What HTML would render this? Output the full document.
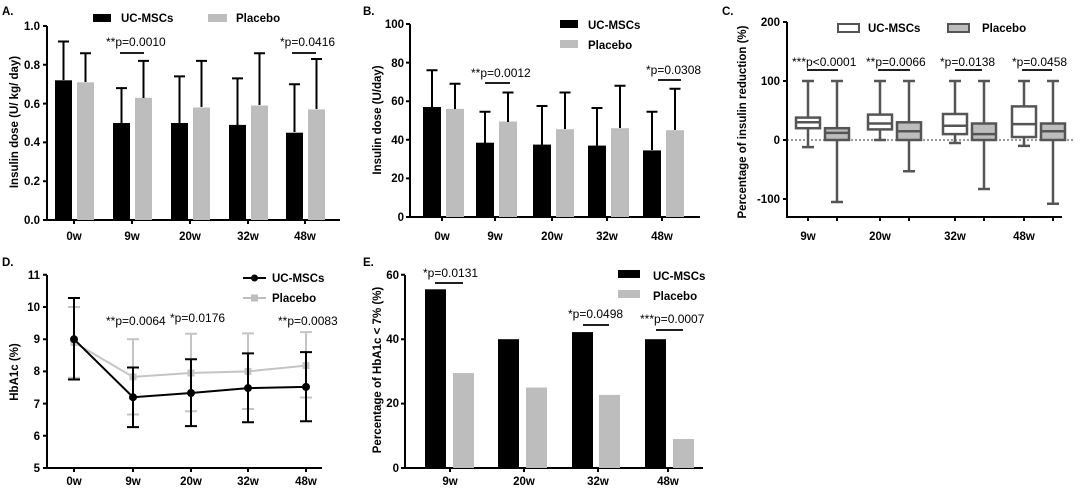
<!DOCTYPE html>
<html><head><meta charset="utf-8"><style>
html,body{margin:0;padding:0;background:#fff;}
svg{display:block;font-family:"Liberation Sans",Arial,sans-serif;}
.t{font-size:11.5px;font-weight:bold;}
.p{font-size:12px;}
.ax{stroke:#000;stroke-width:2;fill:none;}
.e{stroke:#000;stroke-width:2;fill:none;}
.g{fill:#bdbdbd;}
.bx{stroke:#555;stroke-width:2.5;fill:#fff;}
.bp{stroke:#555;stroke-width:2.5;fill:#bdbdbd;}
.wl{stroke:#555;stroke-width:2.5;fill:none;}
</style></head><body>
<svg width="1080" height="491" viewBox="0 0 1080 491">
<!-- ===== Panel A ===== -->
<text x="2" y="15" class="t" font-size="13">A.</text>
<rect x="93" y="14" width="18" height="8"/><text x="121" y="22" class="t">UC-MSCs</text>
<rect x="208" y="14" width="19" height="8" class="g"/><text x="236" y="22" class="t">Placebo</text>
<g class="t" text-anchor="end">
<text x="40" y="224">0.0</text><text x="40" y="185">0.2</text><text x="40" y="146">0.4</text><text x="40" y="108">0.6</text><text x="40" y="69">0.8</text><text x="40" y="30">1.0</text>
</g>
<path class="ax" d="M47,26V220H340M43,220H47M43,181.2H47M43,142.4H47M43,103.6H47M43,64.8H47M43,26H47M74,220v4M132,220v4M190,220v4M248,220v4M305,220v4"/>
<g class="t" text-anchor="middle"><text x="74" y="240">0w</text><text x="132" y="240">9w</text><text x="190" y="240">20w</text><text x="248" y="240">32w</text><text x="305" y="240">48w</text></g>
<text transform="translate(18,122) rotate(-90)" class="t" text-anchor="middle">Insulin dose (U/ kg/ day)</text>
<rect x="55" y="80.3" width="17" height="139.7"/><rect x="77" y="82.3" width="17" height="137.7" class="g"/>
<rect x="113" y="123" width="17" height="97"/><rect x="135" y="97.8" width="17" height="122.2" class="g"/>
<rect x="171" y="123" width="17" height="97"/><rect x="193" y="107.5" width="17" height="112.5" class="g"/>
<rect x="229" y="124.9" width="17" height="95.1"/><rect x="251" y="105.5" width="17" height="114.5" class="g"/>
<rect x="286" y="132.7" width="17" height="87.3"/><rect x="308" y="109.4" width="17" height="110.6" class="g"/>
<path class="e" d="M63.5,80V41.5M58,41.5h11M85.5,82V53.2M80,53.2h11M121.5,123V88.1M116,88.1h11M143.5,98V60.9M138,60.9h11M179.5,123V76.4M174,76.4h11M201.5,107V60.9M196,60.9h11M237.5,125V78.4M232,78.4h11M259.5,105V53.2M254,53.2h11M294.5,132V84.2M289,84.2h11M316.5,109V59M311,59h11"/>
<text x="106" y="46" class="p">**p=0.0010</text><path d="M120,53h24M292,53h24" stroke="#000" stroke-width="1.8"/>
<text x="280" y="46" class="p">*p=0.0416</text>

<!-- ===== Panel B ===== -->
<text x="363" y="15" class="t" font-size="13">B.</text>
<rect x="560" y="20" width="18" height="8"/><text x="588" y="29" class="t">UC-MSCs</text>
<rect x="560" y="40" width="18" height="8" class="g"/><text x="588" y="49" class="t">Placebo</text>
<g class="t" text-anchor="end">
<text x="404" y="221">0</text><text x="404" y="182">20</text><text x="404" y="144">40</text><text x="404" y="105">60</text><text x="404" y="67">80</text><text x="404" y="28">100</text>
</g>
<path class="ax" d="M410,24V217H700M406,217H410M406,178.4H410M406,139.8H410M406,101.2H410M406,62.6H410M406,24H410M442,217v4M495,217v4M552,217v4M607,217v4M662,217v4"/>
<g class="t" text-anchor="middle"><text x="442" y="240">0w</text><text x="495" y="240">9w</text><text x="552" y="240">20w</text><text x="607" y="240">32w</text><text x="662" y="240">48w</text></g>
<text transform="translate(381,120) rotate(-90)" class="t" text-anchor="middle">Insulin dose (U/day)</text>
<rect x="423" y="107" width="18" height="110"/><rect x="446" y="108.9" width="18" height="108.1" class="g"/>
<rect x="476" y="142.7" width="18" height="74.3"/><rect x="499" y="121.5" width="18" height="95.5" class="g"/>
<rect x="533" y="144.6" width="18" height="72.4"/><rect x="556" y="129.2" width="18" height="87.8" class="g"/>
<rect x="588" y="145.6" width="18" height="71.4"/><rect x="611" y="128.2" width="18" height="88.8" class="g"/>
<rect x="643" y="150.4" width="18" height="66.6"/><rect x="666" y="130.2" width="18" height="86.8" class="g"/>
<path class="e" d="M432,107V70.3M426.5,70.3h11M455,109V83.8M449.5,83.8h11M485,143V111.8M479.5,111.8h11M508,122V92.5M502.5,92.5h11M542,145V106M536.5,106h11M565,129V92.5M559.5,92.5h11M597,146V108M591.5,108h11M620,128V85.8M614.5,85.8h11M652,150V111.8M646.5,111.8h11M675,130V88.7M669.5,88.7h11"/>
<text x="471" y="77" class="p">**p=0.0012</text><text x="646" y="74" class="p">*p=0.0308</text>
<path d="M485,83h25M658,80h23" stroke="#000" stroke-width="1.8"/>

<!-- ===== Panel C ===== -->
<text x="722" y="15" class="t" font-size="13">C.</text>
<rect x="838" y="24" width="21" height="8" fill="#fff" stroke="#555" stroke-width="2"/><text x="868" y="32" class="t">UC-MSCs</text>
<rect x="948" y="24" width="21" height="8" fill="#bdbdbd" stroke="#555" stroke-width="2"/><text x="982" y="32" class="t">Placebo</text>
<g class="t" text-anchor="end">
<text x="780" y="26">200</text><text x="780" y="85">100</text><text x="780" y="144">0</text><text x="780" y="203">-100</text>
</g>
<path class="ax" d="M787,22V217H1062M783,22H787M783,81H787M783,140H787M783,199H787M808,217v4M837,217v4M880,217v4M909,217v4M955,217v4M984,217v4M1024,217v4M1053,217v4"/>
<path d="M787,140H1075" stroke="#333" stroke-width="1" stroke-dasharray="2,2"/>
<g class="t" text-anchor="middle"><text x="808" y="240">9w</text><text x="880" y="240">20w</text><text x="955" y="240">32w</text><text x="1024" y="240">48w</text></g>
<text transform="translate(746,122) rotate(-90)" class="t" text-anchor="middle">Percentage of insulin reduction (%)</text>
<path class="wl" d="M808,147.1V81M802,81h12M802,147.1h12 M837,202V81M831,81h12M831,202h12 M880,140V81M874,81h12M874,140h12 M909,171.3V81M903,81h12M903,171.3h12 M955,143V81M949,81h12M949,143h12 M984,189V81M978,81h12M978,189h12 M1024,145.9V81M1018,81h12M1018,145.9h12 M1053,203.7V81M1047,81h12M1047,203.7h12"/>
<rect class="bx" x="796" y="117.6" width="24" height="10.6"/><path class="wl" d="M796,122.3h24"/>
<rect class="bp" x="825" y="128.2" width="24" height="11.8"/><path class="wl" d="M825,132.9h24"/>
<rect class="bx" x="868" y="114.6" width="24" height="14.8"/><path class="wl" d="M868,123.5h24"/>
<rect class="bp" x="897" y="122.3" width="24" height="17.7"/><path class="wl" d="M897,131.2h24"/>
<rect class="bx" x="943" y="114" width="24" height="20.1"/><path class="wl" d="M943,125.8h24"/>
<rect class="bp" x="972" y="123.5" width="24" height="16.5"/><path class="wl" d="M972,134.1h24"/>
<rect class="bx" x="1012" y="106.4" width="24" height="30.6"/><path class="wl" d="M1012,124.1h24"/>
<rect class="bp" x="1041" y="123.5" width="24" height="16.5"/><path class="wl" d="M1041,131.2h24"/>
<g class="p"><text x="792" y="66">***p&lt;0.0001</text><text x="866" y="66">**p=0.0066</text><text x="940" y="66">*p=0.0138</text><text x="1012" y="66">*p=0.0458</text></g>
<path d="M807,70h31M878,70h32M955,70h27M1022,70h30" stroke="#000" stroke-width="1.8"/>

<!-- ===== Panel D ===== -->
<text x="2" y="266" class="t" font-size="13">D.</text>
<path d="M243,278h23" stroke="#000" stroke-width="2"/><circle cx="254.5" cy="278" r="3.5"/><text x="272" y="282" class="t">UC-MSCs</text>
<path d="M243,298h23" stroke="#bdbdbd" stroke-width="2"/><rect x="251" y="294.5" width="7" height="7" fill="#bdbdbd"/><text x="272" y="302" class="t">Placebo</text>
<g class="t" text-anchor="end">
<text x="40" y="472">5</text><text x="40" y="440">6</text><text x="40" y="408">7</text><text x="40" y="375">8</text><text x="40" y="343">9</text><text x="40" y="311">10</text><text x="40" y="279">11</text>
</g>
<path class="ax" d="M47,275V468H322M43,468H47M43,435.8H47M43,403.6H47M43,371.4H47M43,339.2H47M43,307H47M43,274.8H47M74,468v4M133,468v4M191,468v4M248,468v4M306,468v4"/>
<g class="t" text-anchor="middle"><text x="74" y="485">0w</text><text x="133" y="485">9w</text><text x="191" y="485">20w</text><text x="248" y="485">32w</text><text x="306" y="485">48w</text></g>
<text transform="translate(18,372) rotate(-90)" class="t" text-anchor="middle">HbA1c (%)</text>
<g stroke="#c4c4c4" stroke-width="2" fill="none">
<path d="M74,377.8V307M68,307h12M68,377.8h12M133,414.5V339.2M127,339.2h12M127,414.5h12M191,411.3V333.7M185,333.7h12M185,411.3h12M248,409V333.4M242,333.4h12M242,409h12M306,397.5V332.1M300,332.1h12M300,397.5h12"/>
<path d="M74,342.4L133,376.9L191,373L248,371.4L306,365.6"/>
</g>
<g fill="#c4c4c4"><rect x="70.5" y="338.9" width="7" height="7"/><rect x="129.5" y="373.4" width="7" height="7"/><rect x="187.5" y="369.5" width="7" height="7"/><rect x="244.5" y="367.9" width="7" height="7"/><rect x="302.5" y="362.1" width="7" height="7"/></g>
<g stroke="#000" stroke-width="2" fill="none">
<path d="M74,379.5V298M68,298h12M68,379.5h12M133,427.1V367.5M127,367.5h12M127,427.1h12M191,426.1V359.2M185,359.2h12M185,426.1h12M248,422.3V353.4M242,353.4h12M242,422.3h12M306,421.3V352.1M300,352.1h12M300,421.3h12"/>
<path d="M74,339.2L133,397.2L191,393L248,388.1L306,386.9"/>
</g>
<g><circle cx="74" cy="339.2" r="4"/><circle cx="133" cy="397.2" r="4"/><circle cx="191" cy="393" r="4"/><circle cx="248" cy="388.1" r="4"/><circle cx="306" cy="386.9" r="4"/></g>
<g class="p"><text x="106" y="325">**p=0.0064</text><text x="170" y="322">*p=0.0176</text><text x="278" y="325">**p=0.0083</text></g>

<!-- ===== Panel E ===== -->
<text x="363" y="266" class="t" font-size="13">E.</text>
<rect x="618" y="270" width="22" height="8"/><text x="653" y="280" class="t">UC-MSCs</text>
<rect x="618" y="290" width="22" height="8" class="g"/><text x="653" y="300" class="t">Placebo</text>
<g class="t" text-anchor="end">
<text x="399" y="472">0</text><text x="399" y="407">20</text><text x="399" y="343">40</text><text x="399" y="279">60</text>
</g>
<path class="ax" d="M405,275V468H703M401,468H405M401,403.6H405M401,339.2H405M401,274.8H405M450,468v4M524,468v4M598,468v4M668,468v4"/>
<g class="t" text-anchor="middle"><text x="450" y="485">9w</text><text x="524" y="485">20w</text><text x="598" y="485">32w</text><text x="668" y="485">48w</text></g>
<text transform="translate(381,370) rotate(-90)" class="t" text-anchor="middle">Percentage of HbA1c &lt; 7% (%)</text>
<rect x="425" y="289.3" width="21" height="178.7"/><rect x="453" y="373" width="21" height="95" class="g"/>
<rect x="498" y="339.2" width="21" height="128.8"/><rect x="526" y="387.5" width="21" height="80.5" class="g"/>
<rect x="572" y="332.1" width="21" height="135.9"/><rect x="599" y="394.9" width="21" height="73.1" class="g"/>
<rect x="645" y="339.2" width="21" height="128.8"/><rect x="673" y="439" width="21" height="29" class="g"/>
<g class="p"><text x="423" y="277">*p=0.0131</text><text x="568" y="318">*p=0.0498</text><text x="640" y="323">***p=0.0007</text></g>
<path d="M435,283h28M583,325h26M656,330h27" stroke="#000" stroke-width="1.8"/>
</svg>
</body></html>
